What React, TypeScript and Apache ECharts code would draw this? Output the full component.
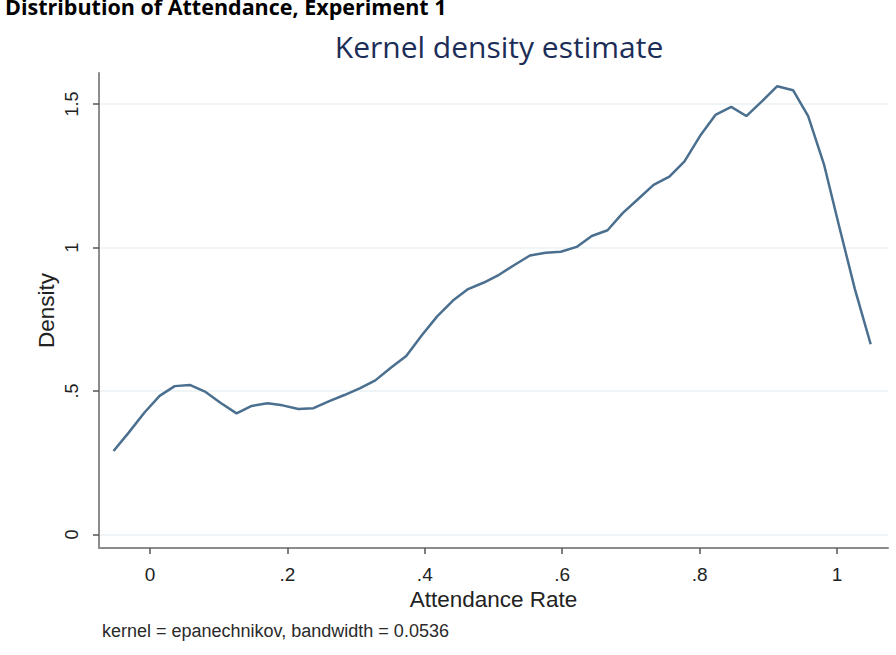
import React, { useEffect, useRef } from "react";
import * as echarts from "echarts";

const attendance = [
  -0.053, -0.031, -0.008, 0.014, 0.036, 0.058, 0.08, 0.103, 0.126, 0.148,
  0.171, 0.193, 0.216, 0.238, 0.261, 0.283, 0.306, 0.328, 0.351, 0.373,
  0.396, 0.418, 0.441, 0.463, 0.486, 0.508, 0.531, 0.553, 0.576, 0.598,
  0.621, 0.643, 0.666, 0.688, 0.711, 0.733, 0.756, 0.778, 0.801, 0.823,
  0.846, 0.868, 0.891, 0.913, 0.936, 0.958, 0.981, 1.003, 1.026, 1.049,
];
const density = [
  0.291, 0.355, 0.425, 0.483, 0.517, 0.521, 0.498, 0.458, 0.422, 0.448,
  0.457, 0.45, 0.437, 0.44, 0.465, 0.486, 0.51, 0.537, 0.582, 0.622,
  0.695, 0.76, 0.815, 0.855, 0.878, 0.905, 0.94, 0.972, 0.982, 0.985,
  1.002, 1.04, 1.06, 1.12, 1.17, 1.218, 1.247, 1.3, 1.39, 1.462,
  1.49, 1.458, 1.51, 1.562, 1.548, 1.458, 1.29, 1.075, 0.855, 0.663,
];
const xTicks = [0, 0.2, 0.4, 0.6, 0.8, 1];
const xTickLabels = ["0", ".2", ".4", ".6", ".8", "1"];
const yTicks = [0, 0.5, 1, 1.5];
const yTickLabels = ["0", ".5", "1", "1.5"];

const mainTitle = "Distribution of Attendance, Experiment 1";
const plotTitle = "Kernel density estimate";
const note = "kernel = epanechnikov, bandwidth = 0.0536";

function labelFor(v: number, ticks: number[], labels: string[]) {
  const i = ticks.findIndex((t) => Math.abs(t - v) < 1e-6);
  return i >= 0 ? labels[i] : "";
}

export default function App() {
  const ref = useRef<HTMLDivElement>(null);
  useEffect(() => {
    if (!ref.current) return;
    const chart = echarts.init(ref.current, null, { renderer: "svg" });
    const axisColor = "#8c8c8c";
    const font = "Liberation Sans, Arial, sans-serif";
    chart.setOption({
      animation: false,
      backgroundColor: "#ffffff",
      title: [
        {
          text: mainTitle,
          left: 0,
          top: -10,
          textStyle: { fontFamily: "Open Sans, sans-serif", fontWeight: "bold", fontSize: 21.5, color: "#000000" },
        },
        {
          text: plotTitle,
          left: 494,
          top: 26,
          textAlign: "center",
          textStyle: { fontFamily: "Open Sans, sans-serif", fontWeight: "normal", fontSize: 30, color: "#1c2d57" },
        },
        {
          text: note,
          left: 97,
          top: 617,
          textStyle: { fontFamily: font, fontWeight: "normal", fontSize: 18, color: "#2a2a2a" },
        },
      ],
      grid: { left: 99, right: 8, top: 73, bottom: 107, containLabel: false },
      xAxis: {
        type: "value",
        min: -0.0742,
        max: 1.0742,
        name: "Attendance Rate",
        nameLocation: "middle",
        nameGap: 40,
        nameMoveOverlap: false,
        nameTextStyle: { fontFamily: font, fontSize: 22.5, color: "#222222" },
        axisLine: { show: true, onZero: false, lineStyle: { color: axisColor, width: 2 } },
        axisTick: { show: true, length: 6, customValues: xTicks, lineStyle: { color: "#555555", width: 1.5 } },
        axisLabel: {
          customValues: xTicks,
          formatter: (v: number) => labelFor(v, xTicks, xTickLabels),
          fontFamily: font,
          fontSize: 19,
          color: "#222222",
          margin: 17,
        },
        splitLine: { show: false },
      },
      yAxis: {
        type: "value",
        min: -0.047,
        max: 1.608,
        name: "Density",
        nameLocation: "middle",
        nameRotate: 90,
        nameGap: 41,
        nameMoveOverlap: false,
        nameTextStyle: { fontFamily: font, fontSize: 22.5, color: "#222222" },
        axisLine: { show: true, onZero: false, lineStyle: { color: axisColor, width: 2 } },
        axisTick: { show: true, length: 6, customValues: yTicks, lineStyle: { color: "#555555", width: 1.5 } },
        axisLabel: {
          customValues: yTicks,
          rotate: 90,
          formatter: (v: number) => labelFor(v, yTicks, yTickLabels),
          fontFamily: font,
          fontSize: 18,
          color: "#222222",
          margin: 18,
        },
        splitLine: { show: true, lineStyle: { color: "#eaf2f4", width: 1.5 } },
      },
      series: [
        {
          type: "line",
          data: attendance.map((x, i) => [x, density[i]]),
          showSymbol: false,
          symbol: "none",
          lineStyle: { color: "#4b6f8f", width: 2.5 },
          smooth: false,
        },
      ],
    });
    return () => chart.dispose();
  }, []);
  return (
    <div
      ref={ref}
      style={{ position: "absolute", left: 0, top: 0, width: 896, height: 655 }}
    />
  );
}
